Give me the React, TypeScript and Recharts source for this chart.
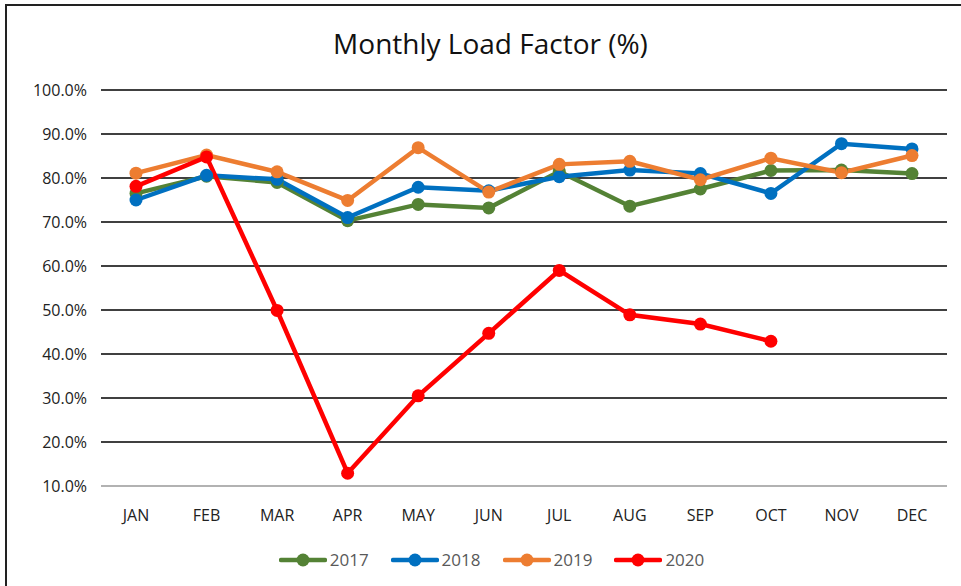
import React from "react";
import { LineChart, Line, XAxis, YAxis, CartesianGrid, Legend } from "recharts";

const months = ["JAN", "FEB", "MAR", "APR", "MAY", "JUN", "JUL", "AUG", "SEP", "OCT", "NOV", "DEC"];
const y2017 = [76.5, 80.4, 79.0, 70.3, 74.0, 73.2, 81.5, 73.6, 77.5, 81.7, 81.8, 81.0];
const y2018 = [75.0, 80.6, 79.7, 71.0, 77.9, 77.1, 80.3, 81.8, 81.0, 76.5, 87.8, 86.6];
const y2019 = [81.1, 85.2, 81.4, 74.9, 86.9, 76.8, 83.1, 83.8, 79.6, 84.5, 81.2, 85.1];
const y2020: (number | null)[] = [78.1, 84.8, 49.9, 12.9, 30.5, 44.7, 59.0, 48.9, 46.8, 42.9, null, null];
const yTicks = [10, 20, 30, 40, 50, 60, 70, 80, 90, 100];

const seriesInfo = [
  { key: "2017", color: "#548235", values: y2017 },
  { key: "2018", color: "#0070C0", values: y2018 },
  { key: "2019", color: "#ED7D31", values: y2019 },
  { key: "2020", color: "#FF0000", values: y2020 },
];

const data = months.map((m, i) => {
  const row: any = { month: m };
  seriesInfo.forEach((s) => {
    row[s.key] = s.values[i];
  });
  return row;
});

const FONT = "'Open Sans', 'Noto Sans', sans-serif";

const LegendContent = () => (
  <div style={{ display: "flex", justifyContent: "center", alignItems: "center", fontFamily: FONT, marginTop: 22, marginLeft: 58 }}>
    {seriesInfo.map((s) => (
      <div key={s.key} style={{ display: "flex", alignItems: "center", marginRight: 22 }}>
        <svg width={48} height={14}>
          <line x1={2} y1={7} x2={46} y2={7} stroke={s.color} strokeWidth={4.5} strokeLinecap="round" />
          <circle cx={24} cy={7} r={6.5} fill={s.color} />
        </svg>
        <span style={{ fontSize: 17, color: "#595959", marginLeft: 3 }}>{s.key}</span>
      </div>
    ))}
  </div>
);

export default function App() {
  return (
    <div style={{ position: "absolute", left: 0, top: 0, width: 961, height: 586, background: "#fff", overflow: "hidden" }}>
      <div
        style={{
          position: "absolute",
          left: 5,
          top: 4,
          width: 980,
          height: 620,
          borderLeft: "2px solid #222",
          borderTop: "2px solid #222",
          boxSizing: "border-box",
        }}
      />
      <div
        style={{
          position: "absolute",
          left: 0,
          width: 981,
          top: 24,
          textAlign: "center",
          fontFamily: FONT,
          fontSize: 28,
          color: "#111",
        }}
      >
        Monthly Load Factor (%)
      </div>
      <div style={{ position: "absolute", left: 0, top: 0 }}>
        <LineChart width={961} height={586} data={data} margin={{ top: 90, right: 14, left: 0, bottom: 10 }}>
          <CartesianGrid vertical={false} stroke="#000" strokeWidth={1.5} />
          <XAxis
            dataKey="month"
            axisLine={{ stroke: "#d9d9d9", strokeWidth: 1.5 }}
            tickLine={false}
            padding={{ left: 35, right: 35 }}
            tick={{ fill: "#222", fontSize: 16, fontFamily: FONT }}
            tickMargin={18}
            height={40}
          />
          <YAxis
            domain={[10, 100]}
            ticks={yTicks}
            axisLine={false}
            tickLine={false}
            width={101}
            tickMargin={8}
            tick={{ fill: "#222", fontSize: 16, fontFamily: FONT }}
            tickFormatter={(v: number) => v.toFixed(1) + "%"}
            interval={0}
          />
          <Legend verticalAlign="bottom" height={50} content={<LegendContent />} />
          {seriesInfo.map((s) => (
            <Line
              key={s.key}
              dataKey={s.key}
              stroke={s.color}
              strokeWidth={4.5}
              dot={{ r: 6.5, fill: s.color, stroke: s.color, strokeWidth: 0 }}
              activeDot={false}
              isAnimationActive={false}
              connectNulls={false}
            />
          ))}
        </LineChart>
      </div>
    </div>
  );
}
